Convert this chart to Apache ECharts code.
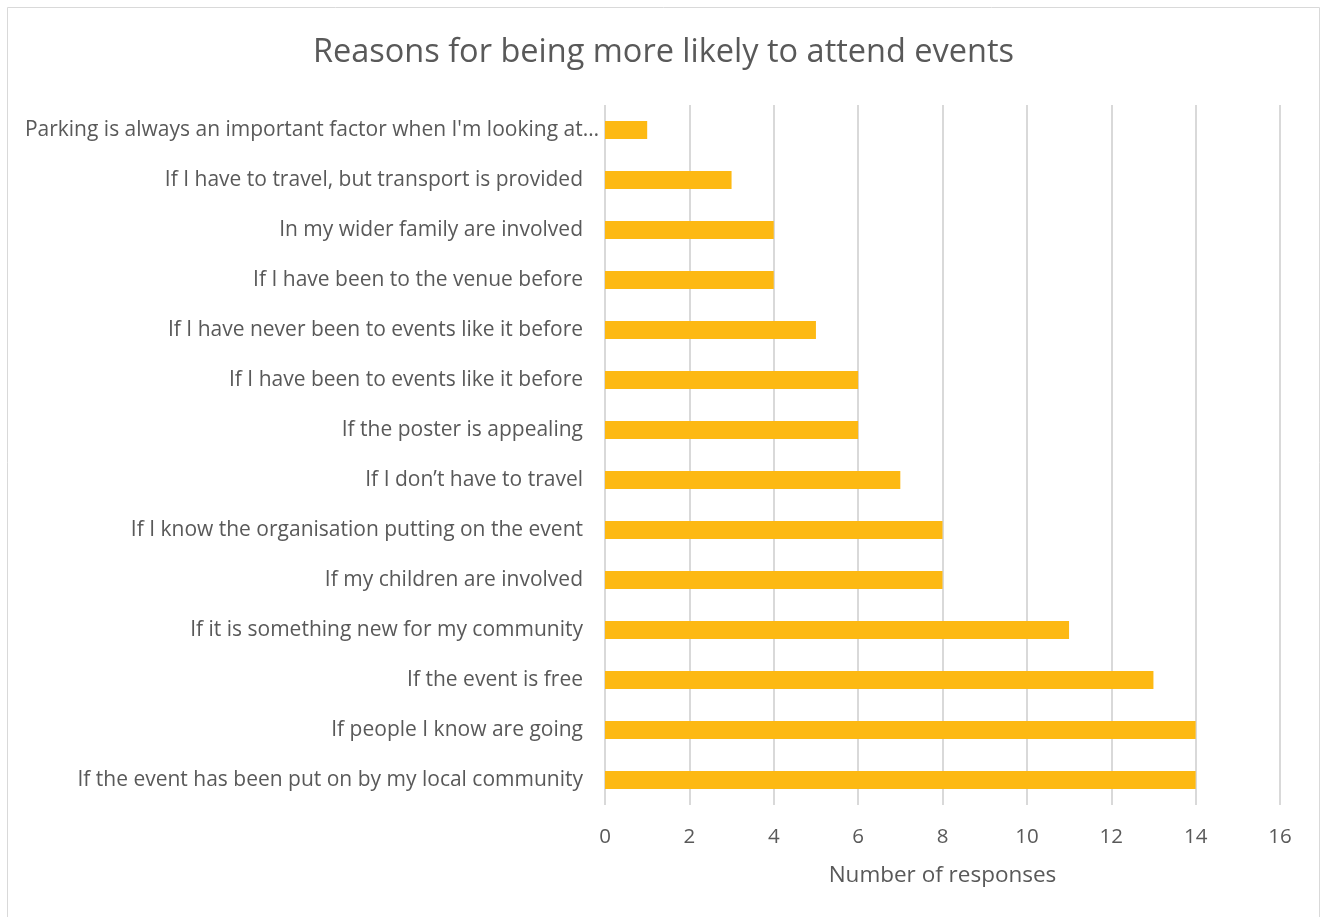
<!DOCTYPE html>
<html>
<head>
<meta charset="utf-8">
<script src="https://cdn.jsdelivr.net/npm/echarts@6/dist/echarts.min.js"></script>
<style>
html,body{margin:0;padding:0;background:#fff;}
#chart{width:1327px;height:917px;}
</style>
</head>
<body>
<div id="chart"></div>
<script>
const titleText = 'Reasons for being more likely to attend events';
const categories = [
  "Parking is always an important factor when I'm looking at…",
  'If I have to travel, but transport is provided',
  'In my wider family are involved',
  'If I have been to the venue before',
  'If I have never been to events like it before',
  'If I have been to events like it before',
  'If the poster is appealing',
  'If I don’t have to travel',
  'If I know the organisation putting on the event',
  'If my children are involved',
  'If it is something new for my community',
  'If the event is free',
  'If people I know are going',
  'If the event has been put on by my local community'
];
const responses = [1, 3, 4, 4, 5, 6, 6, 7, 8, 8, 11, 13, 14, 14];
const xAxisTitle = 'Number of responses';

const FONT = 'Open Sans';
const chart = echarts.init(document.getElementById('chart'), null, {renderer: 'canvas'});
chart.setOption({
  animation: false,
  backgroundColor: '#ffffff',
  textStyle: {fontFamily: FONT},
  title: {
    text: titleText,
    left: 'center',
    top: 31,
    textStyle: {fontFamily: FONT, fontSize: 32.5, fontWeight: 'normal', color: '#595959'}
  },
  graphic: [{
    type: 'rect',
    shape: {x: 7.5, y: 7.5, width: 1312, height: 920},
    style: {fill: 'none', stroke: '#d9d9d9', lineWidth: 1}
  }],
  grid: {left: 605, right: 47, top: 105, bottom: 112, containLabel: false},
  xAxis: {
    type: 'value',
    min: 0, max: 16, interval: 2,
    name: xAxisTitle,
    nameLocation: 'middle',
    nameGap: 59,
    nameTextStyle: {fontFamily: FONT, fontSize: 22.5, color: '#595959'},
    axisLine: {show: false},
    axisTick: {show: false},
    axisLabel: {fontFamily: FONT, fontSize: 20.5, color: '#595959', margin: 22},
    splitLine: {show: true, lineStyle: {color: '#d9d9d9', width: 2}}
  },
  yAxis: {
    type: 'category',
    inverse: true,
    data: categories,
    axisLine: {show: false},
    axisTick: {show: false},
    axisLabel: {
      fontFamily: FONT, fontSize: 21, color: '#595959', margin: 6,
      formatter: function (v, i) { return i === 0 ? '{l|' + v + '}' : '{n|' + v + '}'; },
      rich: {
        l: {fontFamily: FONT, fontSize: 21, color: '#595959', padding: [0, 0, 0, 0]},
        n: {fontFamily: FONT, fontSize: 21, color: '#595959', padding: [0, 16, 0, 0]}
      }
    }
  },
  series: [{
    type: 'bar',
    data: responses,
    barWidth: 18,
    itemStyle: {color: '#fdb913'}
  }]
});
</script>
</body>
</html>
